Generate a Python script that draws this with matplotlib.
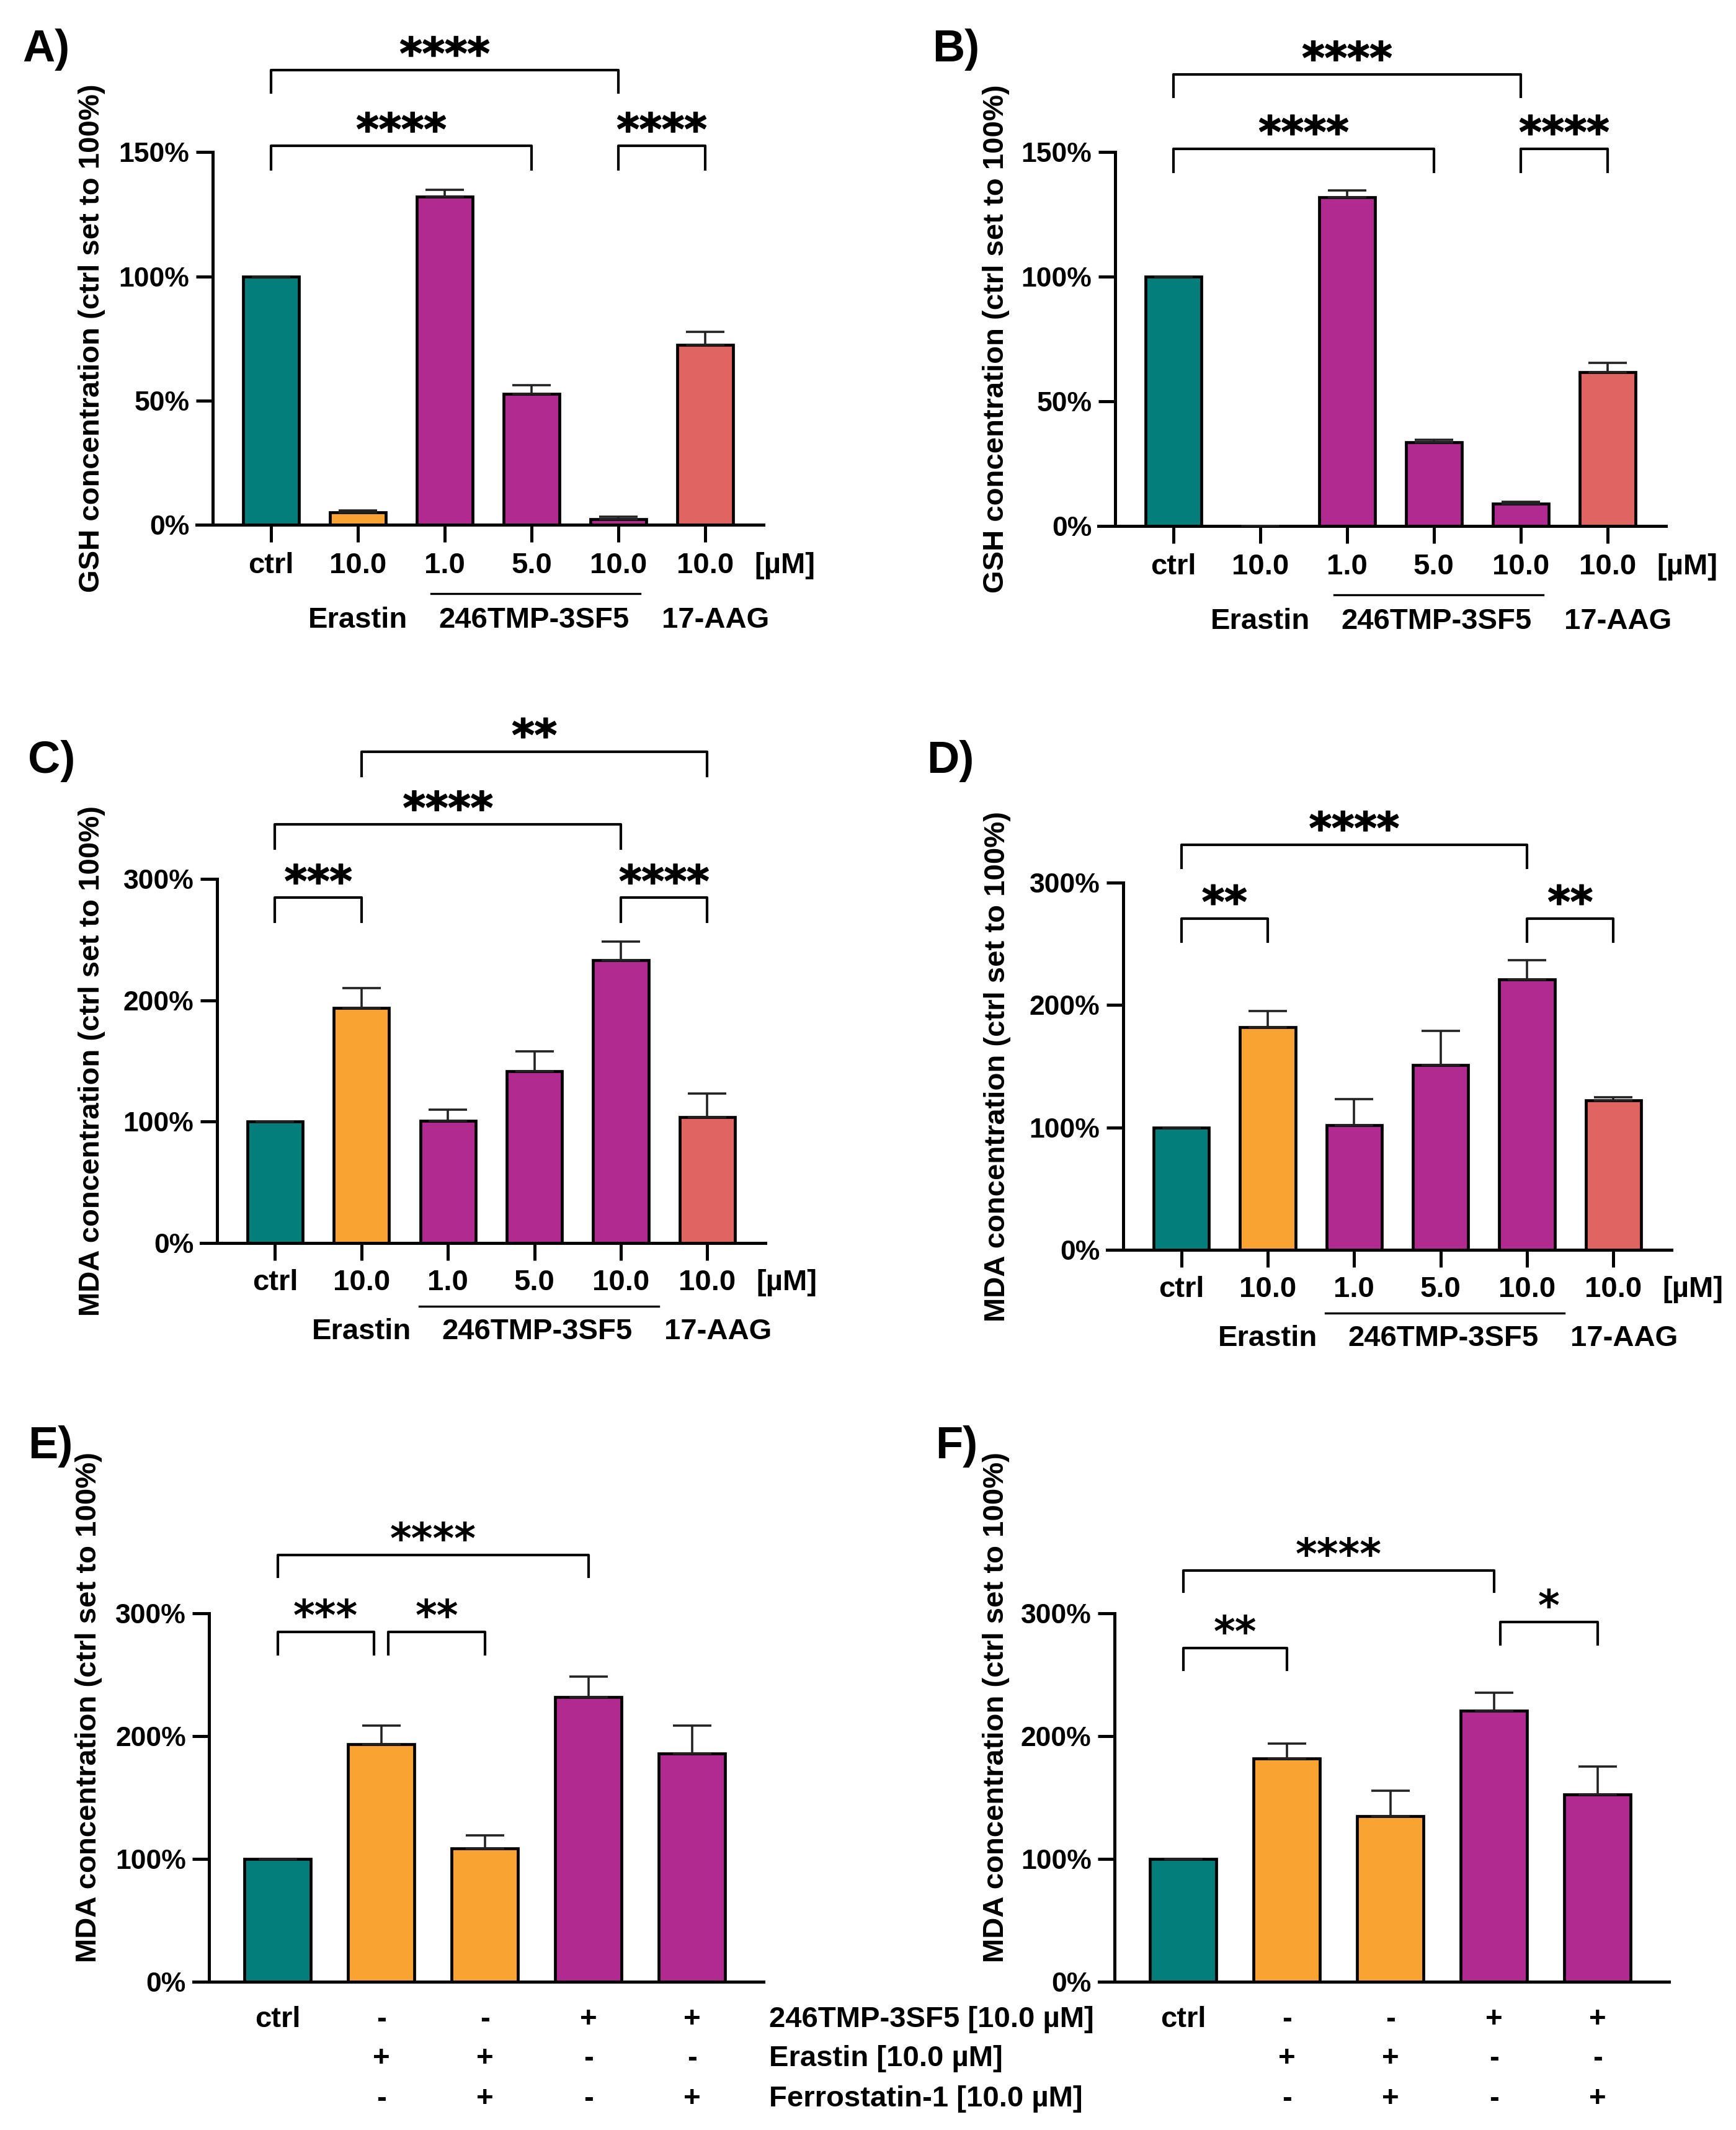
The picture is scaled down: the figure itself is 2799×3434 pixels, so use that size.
import numpy as np
import matplotlib
matplotlib.use('Agg')
import matplotlib.pyplot as plt
import matplotlib.patheffects as pe

plt.rcParams['font.family'] = ['Liberation Sans', 'DejaVu Sans']
plt.rcParams['font.weight'] = 'bold'

TEAL = '#037e7a'
ORANGE = '#f9a432'
MAGENTA = '#b02a8f'
SALMON = '#e0645f'

# ---- data (% of ctrl) ----
dose_labels = ['ctrl', '10.0', '1.0', '5.0', '10.0', '10.0']
dose_colors = [TEAL, ORANGE, MAGENTA, MAGENTA, MAGENTA, SALMON]

gsh_a = [100, 5.0, 132, 52.7, 2.3, 72.3]
gsh_a_err = [0, 0.9, 2.8, 3.5, 1.1, 5.4]
gsh_b = [100, 0, 131.9, 33.5, 8.8, 61.6]
gsh_b_err = [0, 0, 2.7, 1.1, 0.9, 3.8]
mda_c = [100, 194, 101, 141.5, 233, 104]
mda_c_err = [0, 16, 9, 16.3, 15.7, 19]
mda_d = [100, 182, 102, 151, 221, 122]
mda_d_err = [0, 13, 21, 28, 15.5, 2.7]

combo_tmp = ['ctrl', '-', '-', '+', '+']
combo_erastin = ['', '+', '+', '-', '-']
combo_ferro = ['', '-', '+', '-', '+']
combo_rows = ['246TMP-3SF5 [10.0 µM]', 'Erastin [10.0 µM]', 'Ferrostatin-1 [10.0 µM]']
combo_colors = [TEAL, ORANGE, ORANGE, MAGENTA, MAGENTA]
mda_e = [100, 193.6, 108.6, 232, 186]
mda_e_err = [0, 15.2, 10.8, 16.3, 22.4]
mda_f = [100, 181.6, 135, 220.8, 152.5]
mda_f_err = [0, 12.4, 20.7, 14.7, 22.7]

# significance brackets: (x1, x2, y line, y leg end, stars)
sig_a = [(0, 4, 183, 174, '****'), (0, 3, 152.5, 143, '****'), (4, 5, 152.5, 143, '****')]
sig_b = [(0, 4, 181, 172, '****'), (0, 3, 151.3, 142, '****'), (4, 5, 151.3, 142, '****')]
sig_c = [(1, 5, 405, 385, '**'), (0, 4, 345, 325, '****'), (0, 1, 284.6, 264.7, '***'), (4, 5, 284.6, 264.7, '****')]
sig_d = [(0, 4, 331, 312, '****'), (0, 1, 270.8, 252, '**'), (4, 5, 270.8, 252, '**')]
sig_e = [(0, 3, 347.5, 329.5, '****'), (0, 0.93, 284.8, 266.8, '***'), (1.07, 2, 284.8, 266.8, '**')]
sig_f = [(0, 3, 334.8, 317.7, '****'), (0, 1, 271.7, 254, '**'), (3.06, 4, 292.9, 274.7, '*')]

W, H = 2799, 3434
fig = plt.figure(figsize=(W / 200, H / 200), dpi=200)
PT = 72 / 200  # points per pixel


def draw_bars(ax, vals, errs, colors):
    n = len(vals)
    x = np.arange(n)
    ax.bar(x, vals, width=0.64, color=colors, edgecolor='black', linewidth=1.7, zorder=2)
    ax.errorbar(x, vals, yerr=[np.zeros(n), errs], fmt='none', ecolor='#222222',
                elinewidth=1.3, capsize=11, capthick=1.3, zorder=3)


def style(ax, xlim, spine_x, ymax, yticks, xticks):
    ax.set_xlim(*xlim)
    ax.set_ylim(0, ymax)
    ax.patch.set_visible(False)
    for s in ['top', 'right']:
        ax.spines[s].set_visible(False)
    ax.spines['left'].set_position(('data', spine_x))
    ax.spines['left'].set_linewidth(1.8)
    ax.spines['bottom'].set_linewidth(1.8)
    ax.set_yticks(yticks)
    ax.set_yticklabels([f'{t}%' for t in yticks])
    ax.tick_params(axis='y', length=9.6, width=1.8, pad=4, labelsize=16)
    ax.set_xticks(xticks)
    ax.set_xticklabels([''] * len(xticks))


def under(ax, x, text, px, ha='center'):
    ax.annotate(text, xy=(x, 0), xytext=(0, -px * PT), textcoords='offset points',
                ha=ha, va='center', fontsize=17, annotation_clip=False)


def brackets(ax, sigs, size, stroke):
    for x1, x2, y, yl, stars in sigs:
        ax.plot([x1, x1, x2, x2], [yl, y, y, yl], color='black', lw=1.5, clip_on=False)
        t = ax.annotate(stars, xy=((x1 + x2) / 2, y), xytext=(0, 1), textcoords='offset points',
                        ha='center', va='baseline', fontsize=size, fontweight='bold',
                        family='DejaVu Sans', annotation_clip=False)
        if stroke:
            t.set_path_effects([pe.withStroke(linewidth=stroke, foreground='black')])


def dose_panel(rect, vals, errs, ymax, yticks, ylabel, lab_x, sigs, offs, line_x):
    ax = fig.add_axes(rect)
    draw_bars(ax, vals, errs, dose_colors)
    style(ax, (-0.86, 5.67), -0.67, ymax, yticks, range(6))
    ax.tick_params(axis='x', length=10, width=1.8)
    r1, rl, r2 = offs
    for i, t in enumerate(dose_labels):
        under(ax, i, t, r1)
    under(ax, 5.92, '[µM]', r1)
    under(ax, 1.0, 'Erastin', r2)
    under(ax, 3.03, '246TMP-3SF5', r2)
    under(ax, 5.12, '17-AAG', r2)
    # underline for the 246TMP-3SF5 group
    trans = ax.get_xaxis_transform()
    yfrac = -rl / (rect[3] * H)
    ax.plot(line_x, [yfrac, yfrac], color='black', lw=1.2, transform=trans, clip_on=False)
    ax.text(lab_x, 0.5, ylabel, rotation=90, ha='center', va='center',
            transform=ax.transAxes, fontsize=17)
    brackets(ax, sigs, 25, 0.6)
    return ax


def combo_panel(rect, vals, errs, lab_x, sigs, row_names):
    ax = fig.add_axes(rect)
    draw_bars(ax, vals, errs, combo_colors)
    style(ax, (-0.81, 4.69), -0.66, 300, [0, 100, 200, 300], range(5))
    ax.tick_params(axis='x', length=0)
    for row, px in zip([combo_tmp, combo_erastin, combo_ferro], [61, 124, 189]):
        for i, t in enumerate(row):
            under(ax, i, t, px)
    if row_names:
        for name, px in zip(combo_rows, [61, 124, 189]):
            under(ax, 4.745, name, px, ha='left')
    ax.text(lab_x, 0.744, 'MDA concentration (ctrl set to 100%)', rotation=90,
            ha='center', va='center', transform=ax.transAxes, fontsize=17)
    brackets(ax, sigs, 24, 0)
    return ax


dose_panel((0.1131, 0.7536, 0.3266, 0.1750), gsh_a, gsh_a_err, 150, [0, 50, 100, 150],
           'GSH concentration (ctrl set to 100%)', -0.184, sig_a, (66, 111, 154), [1.84, 4.25])
dose_panel((0.6329, 0.7531, 0.3266, 0.1756), gsh_b, gsh_b_err, 150, [0, 50, 100, 150],
           'GSH concentration (ctrl set to 100%)', -0.181, sig_b, (66, 111, 154), [1.85, 4.26])
dose_panel((0.1156, 0.4164, 0.3252, 0.1709), mda_c, mda_c_err, 300, [0, 100, 200, 300],
           'MDA concentration (ctrl set to 100%)', -0.193, sig_c, (64, 102, 143), [1.67, 4.44])
dose_panel((0.6376, 0.4132, 0.3252, 0.1724), mda_d, mda_d_err, 300, [0, 100, 200, 300],
           'MDA concentration (ctrl set to 100%)', -0.194, sig_d, (64, 102, 143), [1.67, 4.43])
combo_panel((0.1116, 0.0696, 0.3282, 0.1730), mda_e, mda_e_err, -0.184, sig_e, True)
combo_panel((0.6332, 0.0696, 0.3282, 0.1730), mda_f, mda_f_err, -0.181, sig_f, False)

panel_pos = {'A)': (36, 80), 'B)': (1503, 80), 'C)': (45, 1227),
             'D)': (1494, 1227), 'E)': (45, 2332), 'F)': (1508, 2332)}
for lab, (px, py) in panel_pos.items():
    fig.text(px / W, 1 - py / H, lab, ha='left', va='center', fontsize=26,
             fontweight='bold', family=['Liberation Sans Narrow', 'Liberation Sans'])

fig.savefig('out.png', dpi=200, facecolor='white')
